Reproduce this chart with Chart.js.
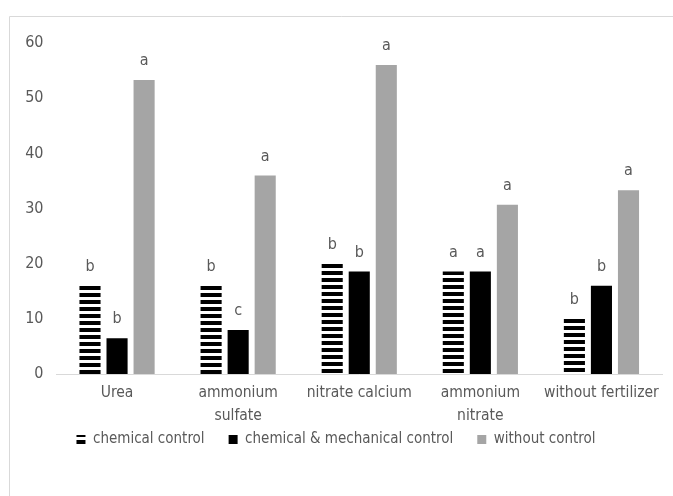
<!DOCTYPE html>
<html>
<head>
<meta charset="utf-8">
<script src="https://cdn.jsdelivr.net/npm/chart.js@4"></script>
<style>
html,body{margin:0;padding:0;background:#fff;}
#wrap{position:relative;width:673px;height:496px;}
</style>
</head>
<body>
<div id="wrap"><canvas id="c" width="673" height="496"></canvas></div>
<script>
const categories = ["Urea", ["ammonium", "sulfate"], "nitrate calcium", ["ammonium", "nitrate"], "without fertilizer"];
const seriesNames = ["chemical control", "chemical & mechanical control", "without control"];
const chemicalControl = [16, 16, 20, 18.6, 10];
const chemMechControl = [6.5, 8, 18.6, 18.6, 16];
const withoutControl = [53.3, 36, 56, 30.7, 33.3];
const lettersChemical = ["b", "b", "b", "a", "b"];
const lettersChemMech = ["b", "c", "b", "a", "b"];
const lettersWithout = ["a", "a", "a", "a", "a"];
const yTicks = [0, 10, 20, 30, 40, 50, 60];

const FONT = '"Liberation Sans Narrow", "DejaVu Sans Condensed", sans-serif';
const TXT = '#595959';

// horizontal stripe pattern
const pc = document.createElement('canvas');
pc.width = 8; pc.height = 7;
const pctx = pc.getContext('2d');
pctx.fillStyle = '#fff'; pctx.fillRect(0,0,8,7);
pctx.fillStyle = '#000'; pctx.fillRect(0,0,8,4);
const ctx = document.getElementById('c').getContext('2d');
const stripes = ctx.createPattern(pc, 'repeat');

function stripeFill(c) {
  if (c.type !== 'data' || !c.chart.scales || !c.chart.scales.y) return stripes;
  const top = Math.round(c.chart.scales.y.getPixelForValue(c.raw));
  const p = c.chart.ctx.createPattern(pc, 'repeat');
  p.setTransform(new DOMMatrix([1, 0, 0, 1, 0, top]));
  return p;
}

const letters = [lettersChemical, lettersChemMech, lettersWithout];

const framePlugin = {
  id: 'frame',
  beforeDraw(chart) {
    const c = chart.ctx;
    c.save();
    c.strokeStyle = '#d9d9d9';
    c.lineWidth = 1;
    c.beginPath();
    c.moveTo(9.5, chart.height); c.lineTo(9.5, 16.5); c.lineTo(chart.width, 16.5);
    c.stroke();
    c.restore();
  }
};

const legendShift = {
  id: 'legendShift',
  afterLayout(chart) {
    const lg = chart.legend;
    if (lg) { lg.top -= 27; lg.bottom -= 27; }
  }
};

const letterPlugin = {
  id: 'letters',
  afterDatasetsDraw(chart) {
    const c = chart.ctx;
    c.save();
    c.font = '16px ' + FONT;
    c.fillStyle = TXT;
    c.textAlign = 'center';
    c.textBaseline = 'bottom';
    chart.data.datasets.forEach((ds, i) => {
      chart.getDatasetMeta(i).data.forEach((bar, j) => {
        c.fillText(letters[i][j], bar.x, bar.y - 11);
      });
    });
    c.restore();
  }
};

new Chart(ctx, {
  type: 'bar',
  data: {
    labels: categories,
    datasets: [
      { label: seriesNames[0], data: chemicalControl, backgroundColor: stripeFill },
      { label: seriesNames[1], data: chemMechControl, backgroundColor: '#000000' },
      { label: seriesNames[2], data: withoutControl, backgroundColor: '#a5a5a5' }
    ]
  },
  options: {
    responsive: false,
    animation: false,
    events: [],
    layout: { padding: { left: 10, right: 11, top: 43, bottom: 12 } },
    datasets: { bar: { categoryPercentage: 0.67, barPercentage: 0.78 } },
    scales: {
      x: {
        grid: { display: false, drawTicks: false },
        border: { display: true, color: '#d9d9d9', width: 1 },
        ticks: { color: TXT, font: { family: FONT, size: 15.5, lineHeight: 1.45 }, padding: 8, maxRotation: 0, autoSkip: false }
      },
      y: {
        min: 0, max: 60,
        afterBuildTicks(scale) { scale.ticks = yTicks.map(v => ({ value: v })); },
        afterFit(scale) { scale.width = 46.5; },
        grid: { display: false, drawTicks: false },
        border: { display: false },
        ticks: { color: TXT, font: { family: FONT, size: 16 }, padding: 13 }
      }
    },
    plugins: {
      legend: {
        position: 'bottom',
        labels: { color: TXT, font: { family: FONT, size: 15 }, boxWidth: 9, boxHeight: 9, padding: 24 }
      },
      tooltip: { enabled: false }
    }
  },
  plugins: [framePlugin, legendShift, letterPlugin]
});
</script>
</body>
</html>
